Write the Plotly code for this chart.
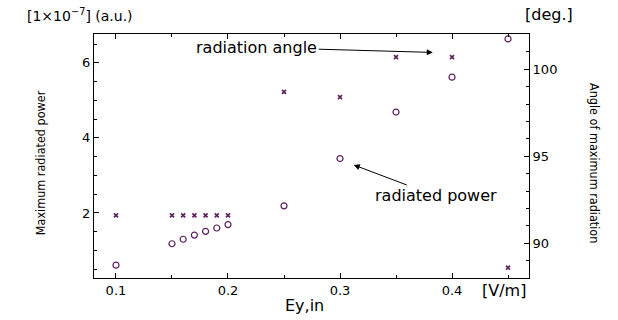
import plotly.graph_objects as go

# Data
ey_in = [0.1, 0.15, 0.16, 0.17, 0.18, 0.19, 0.2, 0.25, 0.3, 0.35, 0.4, 0.45]
max_power = [0.61, 1.18, 1.30, 1.41, 1.51, 1.60, 1.69, 2.19, 3.45, 4.69, 5.62, 6.64]
angle_deg = [91.6, 91.6, 91.6, 91.6, 91.6, 91.6, 91.6, 98.7, 98.4, 100.7, 100.7, 88.6]

MARK = "#5e1f5e"
HFONT = "DejaVu Sans, Liberation Sans, Arial, sans-serif"
VFONT = "DejaVu Sans Condensed, Liberation Sans, Arial, sans-serif"

fig = go.Figure()
fig.add_trace(go.Scatter(
    x=ey_in, y=max_power, mode="markers", name="radiated power",
    marker=dict(symbol="circle-open", size=6, color=MARK, line=dict(width=1.2, color=MARK)),
    yaxis="y",
))
fig.add_trace(go.Scatter(
    x=ey_in, y=angle_deg, mode="markers", name="radiation angle",
    marker=dict(symbol="x-thin-open", size=4, color=MARK, line=dict(width=1.6, color=MARK)),
    yaxis="y2",
))

axis_common = dict(
    showline=True, linecolor="black", linewidth=1,
    ticks="inside", ticklen=5, tickcolor="black", tickwidth=1,
    showgrid=False, zeroline=False,
    tickfont=dict(family=HFONT, size=13, color="black"),
)

fig.update_layout(
    width=618, height=320, autosize=False,
    margin=dict(l=94, r=89, t=34, b=42),
    paper_bgcolor="white", plot_bgcolor="white",
    showlegend=False,
    xaxis=dict(
        range=[0.0804, 0.4687], tick0=0.1, dtick=0.1, tickformat=".1f",
        mirror="ticks",
        minor=dict(dtick=0.05, tick0=0.1, ticks="inside", ticklen=3, tickcolor="black"),
        **axis_common,
    ),
    yaxis=dict(
        range=[0.267, 6.77], tick0=0, dtick=2,
        minor=dict(dtick=0.5, tick0=0, ticks="inside", ticklen=3, tickcolor="black"),
        **axis_common,
    ),
    yaxis2=dict(
        range=[88.0, 102.03], tick0=90, dtick=5, overlaying="y", side="right",
        minor=dict(dtick=1, tick0=90, ticks="inside", ticklen=3, tickcolor="black"),
        **axis_common,
    ),
)

def label(text, x, y, size, family=HFONT, angle=0):
    return dict(text=text, x=x, y=y, xref="paper", yref="paper",
                xanchor="center", yanchor="middle", textangle=angle,
                showarrow=False, font=dict(family=family, size=size, color="black"))

annots = [
    label("[1×10<sup>−7</sup>] (a.u.)", -0.032, 1.078, 14),
    label("[deg.]", 1.046, 1.078, 16),
    label("Maximum radiated power", -0.124, 0.471, 12.5, VFONT, -90),
    label("Angle of maximum radiation", 1.152, 0.471, 12.5, VFONT, 90),
    label("Ey,in", 0.485, -0.111, 16),
    label("[V/m]", 0.943, -0.053, 16),
    # labels with arrows inside the plot
    dict(text="radiation angle", x=0.3828, y=100.97, xref="x", yref="y2",
         showarrow=True, ax=-176, ay=-5, arrowhead=2, arrowsize=1.2, arrowwidth=1,
         arrowcolor="black", font=dict(family=HFONT, size=16, color="black")),
    dict(text="radiated power", x=0.3123, y=3.28, xref="x", yref="y",
         showarrow=True, ax=82, ay=31, arrowhead=2, arrowsize=1.2, arrowwidth=1,
         arrowcolor="black", font=dict(family=HFONT, size=16, color="black")),
]
fig.update_layout(annotations=annots)

fig.write_html("out.html", config={"displayModeBar": False},
               post_script="document.body.style.margin='0px';")
